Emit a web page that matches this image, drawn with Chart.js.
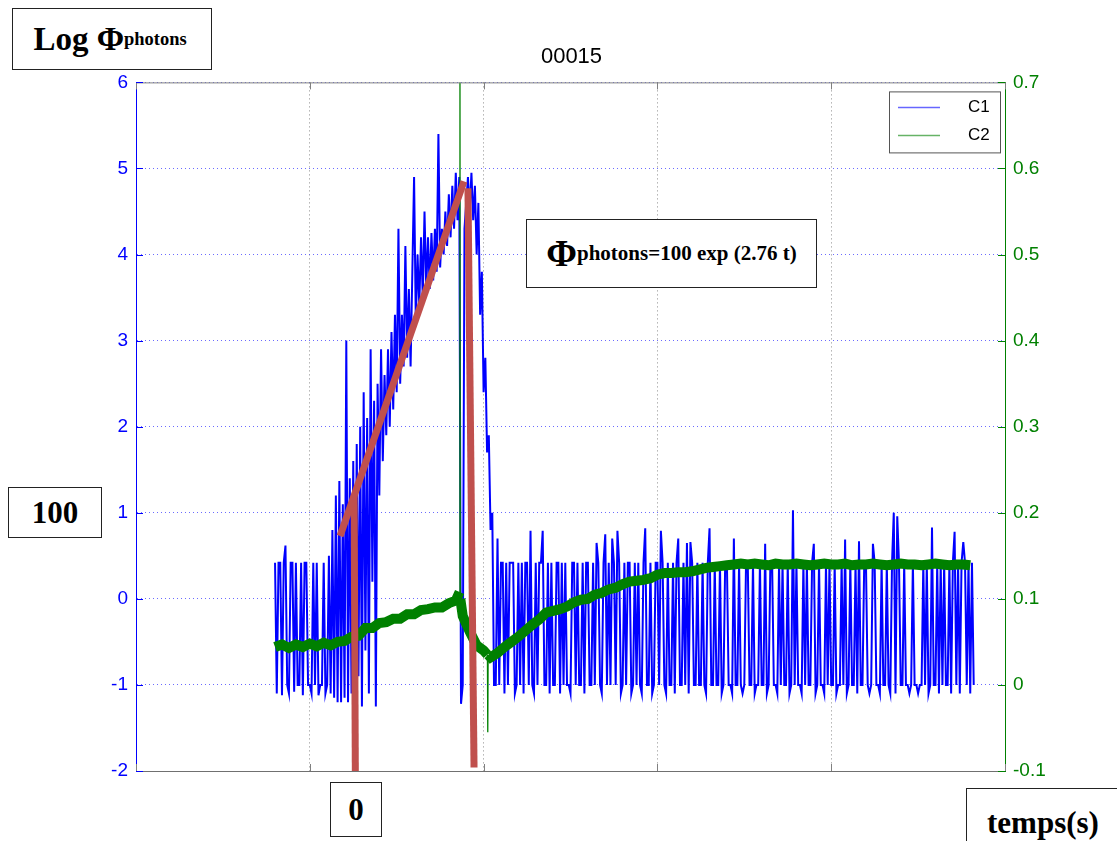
<!DOCTYPE html>
<html>
<head>
<meta charset="utf-8">
<script src="https://cdn.jsdelivr.net/npm/chart.js@4.4.0/dist/chart.umd.min.js"></script>
<style>
html, body { margin: 0; padding: 0; background: #fff; }
#wrap { position: relative; width: 1117px; height: 841px; overflow: hidden; }
#chart { position: absolute; left: 0; top: 0; }
.note {
    position: absolute; box-sizing: border-box; background: #fff;
    border: 1.5px solid #222; color: #000; white-space: nowrap;
    font-family: "Liberation Serif", "Times New Roman", serif; font-weight: bold;
    display: flex; align-items: center; justify-content: center;
}
.note sub { font-size: 0.56em; vertical-align: -0.22em; }
</style>
</head>
<body>
<div id="wrap">
<canvas id="chart" width="1117" height="841"></canvas>
<div class="note" style="left:12px;top:8px;width:200px;height:62px;font-size:33px;padding-right:4px;">Log&nbsp;Φ<sub>photons</sub></div>
<div class="note" style="left:8px;top:487px;width:94px;height:51px;font-size:31px;">100</div>
<div class="note" style="left:330px;top:782px;width:52px;height:55px;font-size:31px;">0</div>
<div class="note" style="left:966px;top:788px;width:200px;height:80px;font-size:31px;justify-content:flex-start;align-items:flex-start;padding:16px 0 0 20px;">temps(s)</div>
<div class="note" style="left:526px;top:219px;width:291px;height:69px;font-size:37px;">Φ<sub style="font-size:21px;vertical-align:-0.3em;">photons=100 exp (2.76 t)</sub></div>
</div>

<script>
// scope capture 00015 : C1 = log photon flux (left axis), C2 = second channel (right axis)
const xMin = 0, xMax = 5            // 5 time divisions, no labels on the scope
const leftMin = -2, leftMax = 6
const rightMin = -0.1, rightMax = 0.7

// C1 sampled every 0.01 div starting at 0.80
const c1Start = 0.80, c1Step = 0.01

// before the flash: telegraph noise between -1 and 0.42
const c1Pre = [0.42,-1.1,0.42,0.42,-1.12,0.42,0.62,-1,-1.1,0.42,
    0.42,-1.08,0.42,-1,-1,0.42,-1.12,0.42,0.42,-1,
    -1,-1.1,0.42,-1,0.42,-1.12,-1,-1,0.42,-1.1,
    -1,0.5,-1.1,0.8,-1.15,1.2,-1.2,1.37]

// rising part
const c1Rise = [-1.2,1.1,-1.15,3.0,-1.2,1.4,-1.1,1.6,-1.2,1.8,
    -0.9,2.0,-1.25,2.4,-0.6,2.1,-1.1,2.9,0.2,2.3,
    -1.25,2.5,1.2,2.9,1.6,2.6,1.9,2.9,2.0,3.1,
    2.2,3.3,2.4,4.3,2.5,3.3,2.7,4.1,2.8,3.6,
    2.7,3.8,4.9,3.2,4.0,3.4,4.2,3.5,4.5,3.6,
    4.2,3.6,4.25,3.7,4.3,3.8,5.4,3.85,4.3,4.0,
    4.5,4.1,4.7,4.2,4.8,4.3,4.95,4.4]

// top, dropout and decay
const c1Peak = [4.9,-1.22,-1.0,4.3,4.6,4.9,4.5,4.95,4.4,4.8,
    4.0,4.6,3.3,3.8,2.4,2.8,1.7,1.9,0.8,1.0,-1.0]

// after the flash: telegraph noise again
const c1Post = [-1,0.7,-1,0.42,0.42,-1.1,0.42,-1,0.42,0.42,0.42,-1.1,-1,0.42,-1,0.42,-1.1,0.42,0.42,-1,
    0.79,-1,-1.1,0.42,-1,0.42,0.42,0.79,-1,-1,0.42,-1.1,0.42,-1,-1,0.42,0.42,-1.1,0.42,-1,
    0.42,-1,-1,-1.1,0.42,0.42,-1,0.42,-1,-1,0.42,-1.1,0.42,0.42,-1,-1,0.42,-1,0.65,0.42,
    -1,-1.1,0.42,0.75,-1,0.42,-1,0.7,0.42,-1,0.79,0.42,-1.1,-1,0.42,-1,0.42,0.42,-1.1,-1,
    0.42,-1,0.42,-1,-1.1,0.42,0.82,-1,-1,0.42,-1.1,-1,0.42,0.42,-1,0.79,0.42,-1,-1.1,0.42,
    -1,-1,0.42,-1.1,0.42,0.7,-1,-1,0.42,-1,0.65,-1.1,0.66,0.42,-1,-1,0.42,-1,-1,0.42,
    -1,-1.1,0.42,0.82,-1,-1,0.42,-1,-1,0.42,-1.1,-1,0.42,0.42,-1,-1,-1.1,0.7,-1,-1,
    0.42,-1,-1.1,-1,0.42,0.42,-1,-1,0.42,-1.1,-1,-1,0.42,-1,-1,0.64,-1.1,-1,0.42,0.42,
    -1,-1,-1.1,0.42,-1,0.42,-1,-1,0.42,-1.1,-1,1.03,-1,0.42,-1,-1,-1.1,0.42,-1,0.42,
    -1,-1,0.42,0.64,-1.1,-1,0.42,-1,-1,-1.1,0.42,-1,0.42,-1,-1,0.42,-1.1,-1,-1,0.42,
    -1,0.69,-1.1,-1,0.42,-1,-1,0.42,-1.1,0.67,-1,-1,0.42,0.42,-1,-1.1,-1,0.64,0.42,-1,
    -1,-1.1,0.42,-1,-1,0.42,-1,-1.1,0.42,1.0,-1.1,0.96,0.42,-1,-1,0.42,-1,-1,-1.1,-1,
    0.42,-1,-1,-1.1,-1,-1,0.42,-1,0.42,-1.1,-1,0.83,-1,-1,0.42,-1.1,0.42,-1,0.42,-1,
    -1,0.42,-1.1,0.42,0.78,-1,0.42,-1.1,0.42,0.66,0.42,-1,0.42,-1.1,0.42,-1]

// C2 sampled every 0.04 div starting at 0.80
const c2Start = 0.80, c2Step = 0.04
const c2 = [0.044,0.047,0.043,0.047,0.044,0.048,0.045,0.049,0.046,0.05,
    0.051,0.056,0.057,0.066,0.066,0.072,0.073,0.077,0.077,0.082,
    0.082,0.087,0.088,0.09,0.09,0.095,0.098,0.08,0.062,0.046,
    0.04,0.032,0.037,0.044,0.05,0.056,0.063,0.07,0.076,0.084,
    0.086,0.088,0.091,0.096,0.099,0.1,0.105,0.107,0.111,0.113,
    0.117,0.12,0.121,0.122,0.124,0.128,0.13,0.13,0.131,0.131,
    0.132,0.134,0.136,0.137,0.138,0.139,0.14,0.141,0.14,0.141,
    0.14,0.139,0.141,0.14,0.14,0.141,0.14,0.139,0.14,0.141,
    0.14,0.14,0.141,0.139,0.14,0.14,0.141,0.14,0.139,0.14,
    0.141,0.14,0.14,0.139,0.14,0.141,0.14,0.139,0.14,0.14,0.139]
// glitches on C2 (x, value)
const c2Glitch = [[1.862,0.108],[1.864,0.72],[1.866,0.1],[2.022,0.035],[2.024,-0.055],[2.026,0.035]]

// hand drawn marks on the figure
const fitRise = [[1.174,0.73],[1.887,4.85]]
const markStart = [[1.262,-2],[1.255,1.2]]
const markEnd = [[1.91,4.77],[1.945,-1.96]]

const blue = 'rgb(0,0,255)'
const green = 'rgb(0,128,0)'
const red = 'rgb(192,80,77)'
const tickFont = { family: '"Liberation Sans", Arial, sans-serif', size: 19 }

const c1 = [...c1Pre, ...c1Rise, ...c1Peak, ...c1Post]
const c1Points = c1.map((v, i) => ({x: +(c1Start + i * c1Step).toFixed(3), y: v}))
let c2Points = c2.map((v, i) => ({x: +(c2Start + i * c2Step).toFixed(3), y: v}))
c2Glitch.forEach(p => c2Points.push({x: p[0], y: p[1]}))
c2Points.sort((a, b) => a.x - b.x)
const toPts = arr => arr.map(p => ({x: p[0], y: p[1]}))

function redLine(pts) {
    return {
        label: '', data: toPts(pts), yAxisID: 'y', borderColor: red, borderWidth: 7,
        borderCapStyle: 'butt', pointRadius: 0, order: 0
    }
}

// axis box like matlab: inner ticks, top edge and the legend box
const scopeFrame = {
    id: 'scopeFrame',
    afterDatasetsDraw(chart) {
        const {ctx, chartArea: a, scales} = chart
        ctx.save()
        ctx.lineWidth = 1
        ctx.strokeStyle = '#808080'
        ctx.beginPath()
        ctx.moveTo(a.left, a.top + 0.5)
        ctx.lineTo(a.right, a.top + 0.5)
        ctx.stroke()
        const len = 7
        scales.x.ticks.forEach(t => {
            const px = Math.round(scales.x.getPixelForValue(t.value)) + 0.5
            ctx.beginPath()
            ctx.moveTo(px, a.bottom); ctx.lineTo(px, a.bottom - len)
            ctx.moveTo(px, a.top); ctx.lineTo(px, a.top + len)
            ctx.stroke()
        })
        ctx.strokeStyle = blue
        scales.y.ticks.forEach(t => {
            const py = Math.round(scales.y.getPixelForValue(t.value)) + 0.5
            ctx.beginPath(); ctx.moveTo(a.left, py); ctx.lineTo(a.left + len, py); ctx.stroke()
        })
        ctx.strokeStyle = green
        scales.y2.ticks.forEach(t => {
            const py = Math.round(scales.y2.getPixelForValue(t.value)) + 0.5
            ctx.beginPath(); ctx.moveTo(a.right - len, py); ctx.lineTo(a.right, py); ctx.stroke()
        })

        // legend
        const items = chart.data.datasets.filter(d => d.label)
        const bx = a.right - 116, by = a.top + 9, bw = 111, bh = 61
        ctx.fillStyle = '#fff'
        ctx.fillRect(bx, by, bw, bh)
        ctx.strokeStyle = '#555'
        ctx.strokeRect(bx + 0.5, by + 0.5, bw, bh)
        ctx.font = '17px "Liberation Sans", Arial, sans-serif'
        ctx.textBaseline = 'middle'
        items.forEach((d, i) => {
            const ly = by + 16 + i * 28
            ctx.strokeStyle = d.borderColor
            ctx.globalAlpha = 0.6
            ctx.lineWidth = 1.5
            ctx.beginPath(); ctx.moveTo(bx + 9, ly); ctx.lineTo(bx + 51, ly); ctx.stroke()
            ctx.globalAlpha = 1
            ctx.fillStyle = '#000'
            ctx.fillText(d.label, bx + 79, ly)
        })
        ctx.restore()
    }
}

new Chart(document.getElementById('chart'), {
    type: 'line',
    data: {
        datasets: [
            {
                label: 'C1', data: c1Points, yAxisID: 'y', borderColor: blue, borderWidth: 2,
                pointRadius: 0, order: 2, clip: 0, borderJoinStyle: 'miter'
            },
            {
                label: 'C2', data: c2Points, yAxisID: 'y2', borderColor: green, borderWidth: 10,
                pointRadius: 0, order: 1, clip: 0,
                segment: {
                    borderWidth: ctx => Math.abs(ctx.p1.y - ctx.p0.y) > 30 ? 1.3 : 10
                }
            },
            redLine(fitRise),
            redLine(markStart),
            redLine(markEnd)
        ]
    },
    options: {
        responsive: false,
        animation: false,
        events: [],
        layout: { padding: { left: 26, right: 0, top: 0, bottom: 0 } },
        plugins: {
            legend: { display: false },
            tooltip: { enabled: false },
            title: {
                display: true, text: '00015', color: '#000',
                font: { family: '"Liberation Sans", Arial, sans-serif', size: 22, weight: 'normal' },
                padding: { top: 44, bottom: 12 }
            }
        },
        scales: {
            x: {
                type: 'linear', min: xMin, max: xMax,
                ticks: { display: false, stepSize: 1 },
                grid: { color: '#8c8c8c', drawTicks: false },
                border: { color: '#707070', dash: [1, 3] },
                afterFit: s => { s.height = 70 }
            },
            y: {
                position: 'left', min: leftMin, max: leftMax,
                ticks: { stepSize: 1, color: blue, padding: 8, font: tickFont },
                grid: { color: 'rgba(70,70,255,0.8)', drawTicks: false },
                border: { color: blue, dash: [1, 3] },
                afterFit: s => { s.width = 110 }
            },
            y2: {
                position: 'right', min: rightMin, max: rightMax,
                ticks: { stepSize: 0.1, color: green, padding: 8, font: tickFont,
                    callback: v => Math.abs(v) < 1e-9 ? '0' : String(+v.toFixed(1)) },
                grid: { drawOnChartArea: false, drawTicks: false },
                border: { color: green },
                afterFit: s => { s.width = 112 }
            }
        }
    },
    plugins: [scopeFrame]
})
</script>
</body>
</html>
